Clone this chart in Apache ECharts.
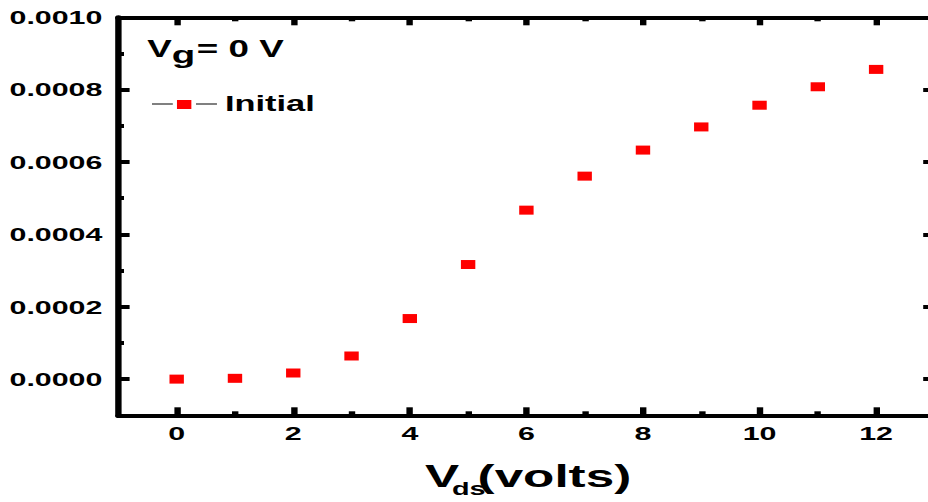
<!DOCTYPE html>
<html>
<head>
<meta charset="utf-8">
<script src="https://cdn.jsdelivr.net/npm/echarts@6/dist/echarts.min.js"></script>
<style>
  html, body { margin: 0; padding: 0; overflow: hidden; background: #fff; }
  /* the original plot is stretched sideways, so draw narrow and stretch the whole chart */
  #main { width: 584px; height: 502px; transform: scaleX(1.6); transform-origin: 0 0; }
</style>
</head>
<body>
<div id="main"></div>
<script>
// data
const vds = [0, 1, 2, 3, 4, 5, 6, 7, 8, 9, 10, 11, 12]
const initialCurrent = [0, 0.0000022, 0.0000169, 0.0000639, 0.0001674, 0.0003167, 0.000467,
  0.000561, 0.000633, 0.000697, 0.000757, 0.000808, 0.000856]

// ticks
const xTickLabels = [0, 2, 4, 6, 8, 10, 12]
const xMinorTicks = [1, 3, 5, 7, 9, 11]
const yTickLabels = [0, 0.0002, 0.0004, 0.0006, 0.0008, 0.001]
const yMinorTicks = [0.0001, 0.0003, 0.0005, 0.0007, 0.0009]

const FONT = '"Liberation Sans", Arial, sans-serif'

// x axes: main one carries the labels, the others only add ticks / the top frame line
function xAxisOf(position, ticks, len, showLine, showLabel) {
  return {
    type: 'value', position: position, min: -1, max: 13, interval: 1,
    splitLine: { show: false },
    axisLine: { show: showLine, onZero: false, lineStyle: { color: '#000', width: 4 } },
    axisTick: { inside: true, length: len, customValues: ticks, lineStyle: { color: '#000', width: 4 } },
    axisLabel: {
      show: showLabel, customValues: xTickLabels, margin: 8,
      color: '#000', fontWeight: 'bold', fontSize: 19, fontFamily: FONT
    }
  }
}

function yAxisOf(position, ticks, len, showLine, showLabel) {
  return {
    type: 'value', position: position, min: -0.0001, max: 0.001, interval: 0.0001,
    splitLine: { show: false },
    axisLine: { show: showLine, onZero: false, lineStyle: { color: '#000', width: 4 } },
    axisTick: { inside: true, length: len, customValues: ticks, lineStyle: { color: '#000', width: 4 } },
    axisLabel: {
      show: showLabel, customValues: yTickLabels, margin: 10,
      color: '#000', fontWeight: 'bold', fontSize: 19, fontFamily: FONT,
      formatter: v => v.toFixed(4)
    }
  }
}

function txt(text, x, y, size) {
  return {
    type: 'text', x: x, y: y,
    style: {
      text: text, fill: '#000', font: 'bold ' + size + 'px ' + FONT,
      textAlign: 'left', textVerticalAlign: 'middle', verticalAlign: 'middle'
    }
  }
}

const chart = echarts.init(document.getElementById('main'), null, { renderer: 'svg' })

chart.setOption({
  animation: false,
  backgroundColor: '#fff',
  grid: { left: 74, right: 0, top: 17.3, bottom: 86.7 },
  xAxis: [
    xAxisOf('bottom', xTickLabels, 8, true, true),
    xAxisOf('bottom', xMinorTicks, 4, false, false),
    xAxisOf('top', xTickLabels, 8, true, false),
    xAxisOf('top', xMinorTicks, 4, false, false)
  ],
  yAxis: [
    yAxisOf('left', yTickLabels, 7, true, true),
    yAxisOf('left', yMinorTicks, 3.5, false, false),
    yAxisOf('right', yTickLabels, 7, true, false),
    yAxisOf('right', yMinorTicks, 3.5, false, false)
  ],
  legend: {
    data: ['Initial'],
    left: 105.6, top: 87.5,
    icon: 'rect', itemWidth: 9, itemHeight: 9,
    formatter: '{t|{name}}',
    textStyle: {
      rich: { t: { padding: [0, 0, 2, 16], color: '#000', fontWeight: 'bold', fontSize: 21.5, fontFamily: FONT } }
    }
  },
  graphic: [
    // Vg = 0 V
    txt('V', 92, 49.6, 23),
    txt('g', 107.3, 55.1, 24),
    txt('= 0 V', 123, 49.6, 23),
    // x axis title  Vds(volts)
    txt('V', 265.6, 476, 32),
    txt('ds', 282.5, 489, 18),
    txt('(volts)', 298.5, 476, 32),
    // legend lines either side of the square
    { type: 'line', shape: { x1: 95, y1: 104, x2: 108, y2: 104 }, style: { stroke: '#000', lineWidth: 1 } },
    { type: 'line', shape: { x1: 122.5, y1: 104, x2: 135.6, y2: 104 }, style: { stroke: '#000', lineWidth: 1 } }
  ],
  series: [
    {
      name: 'Initial',
      type: 'scatter',
      xAxisIndex: 0,
      yAxisIndex: 0,
      symbol: 'rect',
      symbolSize: [9, 9],
      itemStyle: { color: '#ff0000', opacity: 1 },
      data: vds.map((v, i) => [v, initialCurrent[i]])
    }
  ]
})
</script>
</body>
</html>
